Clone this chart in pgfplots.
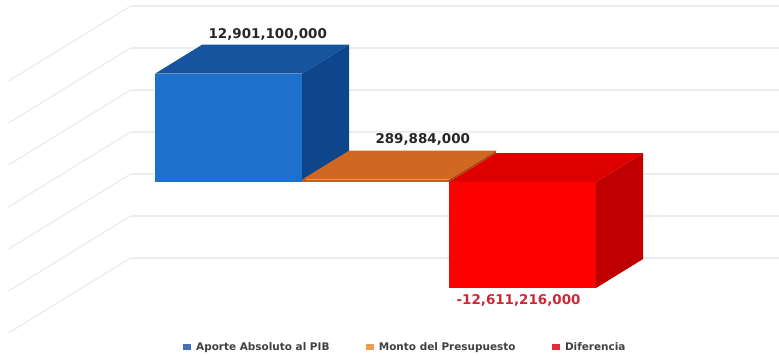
\documentclass[border=0pt]{standalone}
\usepackage{pgfplots}
\pgfplotsset{compat=1.18}
\usepackage{fontspec}
\setmainfont{DejaVu Sans}
\definecolor{bfront}{RGB}{30,112,205}
\definecolor{btop}{RGB}{22,84,160}
\definecolor{bside}{RGB}{14,70,140}
\definecolor{ofront}{RGB}{200,92,22}
\definecolor{otop}{RGB}{208,104,34}
\definecolor{oside}{RGB}{170,75,15}
\definecolor{rfront}{RGB}{255,0,0}
\definecolor{rtop}{RGB}{222,0,0}
\definecolor{rside}{RGB}{192,0,0}
\definecolor{legb}{RGB}{70,112,185}
\definecolor{lego}{RGB}{240,155,80}
\definecolor{legr}{RGB}{225,45,60}
\definecolor{labr}{RGB}{205,40,55}
\begin{document}
\begin{tikzpicture}
\useasboundingbox (-114.4bp,-149bp) rectangle (664.6bp,207bp);
\begin{axis}[
  at={(0,0)}, anchor=origin,
  disabledatascaling,
  x={(147bp,0bp)}, y={(122bp,75bp)}, z={(0bp,8.4bp)},
  xmin=-0.72, xmax=3.75, ymin=0, ymax=1, zmin=-15, zmax=15,
  xtick=\empty, ytick=\empty, ztick={-15,-10,...,15}, zticklabels={},
  major tick length=0pt,
  axis line style={draw=none},
  grid=major,
  major grid style={draw=black!7, line width=1.4bp},
  clip=false,
  legend style={at={(0.509,-0.043)}, anchor=center, draw=none, fill=none,
    font=\fontsize{10.5}{12}\selectfont\bfseries, text=black!75,
    /tikz/every odd column/.append style={column sep=4bp},
    /tikz/every even column/.append style={column sep=34bp}},
  legend columns=3,
  legend image code/.code={\fill[#1] (0bp,-2.5bp) rectangle (7bp,2.5bp);},
]
% Aporte Absoluto al PIB: 12.9011 (miles de millones)
\addplot3[fill=bside, draw=none, forget plot] coordinates {(1,0.333,0) (1,0.72,0) (1,0.72,12.9011) (1,0.333,12.9011)};
\addplot3[fill=btop, draw=none, forget plot] coordinates {(0,0.333,12.9011) (1,0.333,12.9011) (1,0.72,12.9011) (0,0.72,12.9011)};
\addplot3[fill=bfront, draw=none, forget plot] coordinates {(0,0.333,0) (1,0.333,0) (1,0.333,12.9011) (0,0.333,12.9011)};
% Monto del Presupuesto: 0.289884
\addplot3[fill=oside, draw=none, forget plot] coordinates {(2,0.333,0) (2,0.72,0) (2,0.72,0.289884) (2,0.333,0.289884)};
\addplot3[fill=otop, draw=none, forget plot] coordinates {(1,0.333,0.289884) (2,0.333,0.289884) (2,0.72,0.289884) (1,0.72,0.289884)};
\addplot3[fill=ofront, draw=none, forget plot] coordinates {(1,0.333,0) (2,0.333,0) (2,0.333,0.289884) (1,0.333,0.289884)};
% Diferencia: -12.611216
\addplot3[fill=rside, draw=none, forget plot] coordinates {(3,0.333,0) (3,0.72,0) (3,0.72,-12.611216) (3,0.333,-12.611216)};
\addplot3[fill=rtop, draw=none, forget plot] coordinates {(2,0.333,0) (3,0.333,0) (3,0.72,0) (2,0.72,0)};
\addplot3[fill=rfront, draw=none, forget plot] coordinates {(2,0.333,0) (3,0.333,0) (3,0.333,-12.611216) (2,0.333,-12.611216)};

\addlegendimage{legb}
\addlegendentry{Aporte Absoluto al PIB}
\addlegendimage{lego}
\addlegendentry{Monto del Presupuesto}
\addlegendimage{legr}
\addlegendentry{Diferencia}

\node[anchor=south, font=\fontsize{13.5}{15}\selectfont\bfseries, text=black!85, xshift=-8bp, yshift=1bp] at (axis cs:0.5,0.72,12.9011) {12,901,100,000};
\node[anchor=south, font=\fontsize{13.5}{15}\selectfont\bfseries, text=black!85, yshift=2bp] at (axis cs:1.5,0.72,0.289884) {289,884,000};
\node[anchor=north, font=\fontsize{13.5}{15}\selectfont\bfseries, text=labr, xshift=-4bp, yshift=-3bp] at (axis cs:2.5,0.333,-12.611216) {-12,611,216,000};
\end{axis}
\end{tikzpicture}
\end{document}
